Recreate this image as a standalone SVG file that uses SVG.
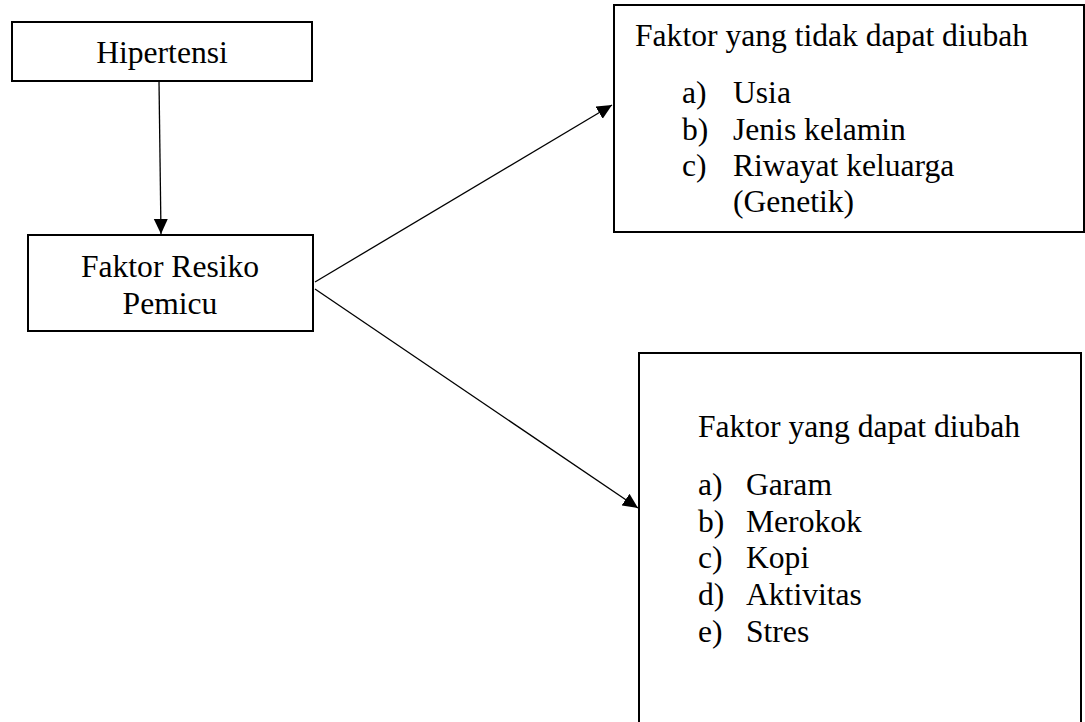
<svg xmlns="http://www.w3.org/2000/svg" width="1085" height="722" viewBox="0 0 1085 722">
<style>
.box{fill:#fff;stroke:#000;stroke-width:2}
.t{font-family:"Liberation Serif","Times New Roman",serif;font-size:31.6px;fill:#000}
.c{stroke:#000;stroke-width:1.3;fill:none;marker-end:url(#ah)}
</style>
<defs>
<marker id="ah" markerUnits="userSpaceOnUse" markerWidth="17" markerHeight="15" refX="15" refY="7" orient="auto">
<path d="M0,0 L15,7 L0,14 z" fill="#000"/>
</marker>
</defs>
<rect width="1085" height="722" fill="#fff"/>
<g id="connectors">
<line class="c" x1="159" y1="81" x2="161" y2="234"/>
<line class="c" x1="315" y1="282" x2="612" y2="105"/>
<line class="c" x1="315" y1="289" x2="638" y2="508"/>
</g>
<g id="hipertensi">
<rect class="box" x="12" y="22" width="300" height="59"/>
<text class="t" x="162" y="63" text-anchor="middle">Hipertensi</text>
</g>
<g id="faktor-resiko">
<rect class="box" x="28" y="235" width="285" height="96"/>
<text class="t" x="170" y="277" text-anchor="middle">Faktor Resiko</text>
<text class="t" x="170" y="314" text-anchor="middle">Pemicu</text>
</g>
<g id="tidak-dapat-diubah">
<rect class="box" x="614" y="5" width="470" height="227"/>
<text class="t" x="635" y="46">Faktor yang tidak dapat diubah</text>
<text class="t" x="682" y="103">a)</text><text class="t" x="733" y="103">Usia</text>
<text class="t" x="682" y="140">b)</text><text class="t" x="733" y="140">Jenis kelamin</text>
<text class="t" x="682" y="176">c)</text><text class="t" x="733" y="176">Riwayat keluarga</text>
<text class="t" x="733" y="212">(Genetik)</text>
</g>
<g id="dapat-diubah">
<rect class="box" x="639" y="353" width="442" height="380"/>
<text class="t" x="698" y="437">Faktor yang dapat diubah</text>
<text class="t" x="698" y="495">a)</text><text class="t" x="746" y="495">Garam</text>
<text class="t" x="698" y="532">b)</text><text class="t" x="746" y="532">Merokok</text>
<text class="t" x="698" y="568">c)</text><text class="t" x="746" y="568">Kopi</text>
<text class="t" x="698" y="605">d)</text><text class="t" x="746" y="605">Aktivitas</text>
<text class="t" x="698" y="642">e)</text><text class="t" x="746" y="642">Stres</text>
</g>
</svg>
